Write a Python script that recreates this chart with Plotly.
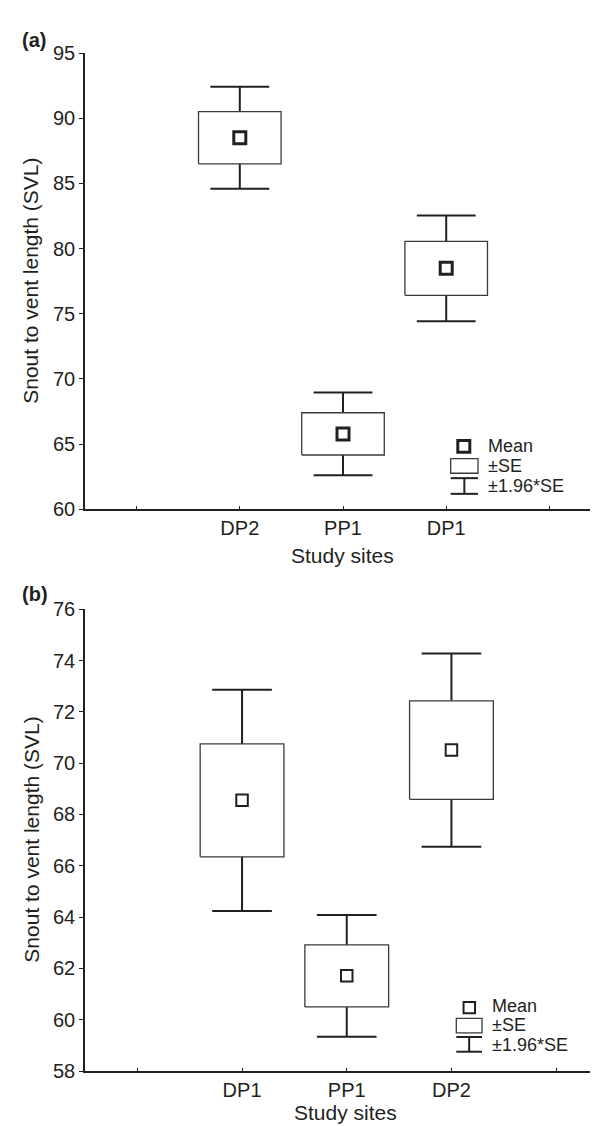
import numpy as np
import plotly.graph_objects as go

# ---------------- data ----------------
sites_a = ["DP2", "PP1", "DP1"]
mean_a = [88.5, 65.78, 78.48]
se_a = [2.0, 1.62, 2.07]

sites_b = ["DP1", "PP1", "DP2"]
mean_b = [68.55, 61.71, 70.51]
se_b = [2.2, 1.21, 1.92]

yticks_a = [60, 65, 70, 75, 80, 85, 90, 95]
yticks_b = [58, 60, 62, 64, 66, 68, 70, 72, 74, 76]

legend_labels = ["Mean", "±SE", "±1.96*SE"]
panel_labels = ["(a)", "(b)"]
x_title = "Study sites"
y_title = "Snout to vent length (SVL)"

# ---------------- style ----------------
W, H = 598, 1126
INK = "#231f20"
BOXC = "#3a3a3a"
FONT = "Liberation Sans, Arial, Helvetica, sans-serif"
FS_TICK = 20
FS_TITLE = 21
FS_LEG = 18
BOX_W = 0.8
CAP_W = 0.57


def P(x, y):
    return x / W, 1 - y / H


fig = go.Figure()


def add_panel(sites, means, ses, xa, ya, mlw, msize):
    xs = np.arange(len(sites)) + 2  # one empty slot on each side
    m = np.array(means)
    s = np.array(ses)
    lo2, hi2 = m - 1.96 * s, m + 1.96 * s
    lo1, hi1 = m - s, m + s
    # whiskers (±1.96*SE)
    wx, wy = [], []
    for x, a, b in zip(xs, lo2, hi2):
        wx += [x, x, None, x - CAP_W / 2, x + CAP_W / 2, None, x - CAP_W / 2, x + CAP_W / 2, None]
        wy += [a, b, None, a, a, None, b, b, None]
    fig.add_trace(go.Scatter(x=wx, y=wy, mode="lines", xaxis=xa, yaxis=ya,
                             line=dict(color=INK, width=2), hoverinfo="skip", showlegend=False))
    # SE boxes
    bx, by = [], []
    for x, a, b in zip(xs, lo1, hi1):
        bx += [x - BOX_W / 2, x + BOX_W / 2, x + BOX_W / 2, x - BOX_W / 2, x - BOX_W / 2, None]
        by += [a, a, b, b, a, None]
    fig.add_trace(go.Scatter(x=bx, y=by, mode="lines", fill="toself", fillcolor="white",
                             xaxis=xa, yaxis=ya, line=dict(color=BOXC, width=1.3),
                             hoverinfo="skip", showlegend=False))
    # means
    fig.add_trace(go.Scatter(x=xs, y=m, mode="markers", xaxis=xa, yaxis=ya,
                             marker=dict(symbol="square", size=msize, color="white",
                                         line=dict(color=INK, width=mlw)),
                             showlegend=False))


add_panel(sites_a, mean_a, se_a, "x", "y", 3, 12)
add_panel(sites_b, mean_b, se_b, "x2", "y2", 2, 11.5)

axis_common = dict(showgrid=False, zeroline=False, showline=True, linecolor=INK, linewidth=1.5,
                   tickcolor=INK, tickwidth=1.3, tickfont=dict(family=FONT, size=FS_TICK, color=INK))

fig.update_layout(
    width=W, height=H,
    margin=dict(l=0, r=0, t=0, b=0),
    paper_bgcolor="white", plot_bgcolor="white",
    showlegend=False,
    xaxis=dict(axis_common, domain=[77 / W, 593 / W], range=[0.5, 5.5], anchor="y",
               tickvals=[1, 2, 3, 4, 5], ticktext=[""] + sites_a + [""],
               ticks="inside", ticklen=3),
    yaxis=dict(axis_common, domain=[1 - 500 / H, 1 - 34.7 / H], range=[60, 95], anchor="x",
               tickvals=yticks_a, ticks="outside", ticklen=4),
    xaxis2=dict(axis_common, domain=[77 / W, 1.0], range=[0.5, 0.5 + 521 / 104.7], anchor="y2",
                tickvals=[1, 2, 3, 4, 5], ticktext=[""] + sites_b + [""],
                ticks="inside", ticklen=3),
    yaxis2=dict(axis_common, domain=[1 - 1073 / H, 1 - 602 / H], range=[58, 76], anchor="x2",
                tickvals=yticks_b, ticks="outside", ticklen=4),
)

shapes = []
annotations = []


def text(x, y, s, size=FS_TITLE, anchor="left", angle=0, bold=False):
    px, py = P(x, y)
    annotations.append(dict(x=px, y=py, xref="paper", yref="paper",
                            text=f"<b>{s}</b>" if bold else s,
                            showarrow=False, xanchor=anchor, yanchor="middle", textangle=angle,
                            font=dict(family=FONT, size=size, color=INK)))


def rect(x0, y0, x1, y1, lw, color=INK):
    a0, b0 = P(x0, y0)
    a1, b1 = P(x1, y1)
    shapes.append(dict(type="rect", xref="paper", yref="paper", x0=a0, y0=b0, x1=a1, y1=b1,
                       line=dict(color=color, width=lw), fillcolor="white"))


def line(x0, y0, x1, y1, lw):
    a0, b0 = P(x0, y0)
    a1, b1 = P(x1, y1)
    shapes.append(dict(type="line", xref="paper", yref="paper", x0=a0, y0=b0, x1=a1, y1=b1,
                       line=dict(color=INK, width=lw)))


def legend(mx, my, msz, mlw, bx0, bx1, by0, by1, wy0, wy1, tx, ty):
    rect(mx - msz / 2, my - msz / 2, mx + msz / 2, my + msz / 2, mlw)
    rect(bx0, by0, bx1, by1, 1.3, BOXC)
    cx = (bx0 + bx1) / 2
    line(bx0, wy0, bx1, wy0, 2)
    line(bx0, wy1, bx1, wy1, 2)
    line(cx, wy0, cx, wy1, 2)
    for lab, yy in zip(legend_labels, ty):
        text(tx, yy, lab, size=FS_LEG)


legend(455.8, 436, 12, 3, 442.7, 470, 448.3, 463.3, 468.3, 484.3, 478, [435, 455.7, 476.2])
legend(461.3, 1008.3, 11.5, 2, 448.3, 474, 1019.3, 1034, 1038.3, 1053.3, 482.3, [1006.2, 1025.7, 1046.2])

# panel labels and titles
text(11.7, 21.7, panel_labels[0], size=20, bold=True)
text(11.7, 586.7, panel_labels[1], size=20, bold=True)
text(23, 267, y_title, anchor="center", angle=-90)
text(23.5, 837.5, y_title, anchor="center", angle=-90)
text(334.5, 546.7, x_title, anchor="center")
text(337.5, 1115, x_title, anchor="center")

fig.update_layout(shapes=shapes, annotations=annotations)
fig.write_html("out.html")
